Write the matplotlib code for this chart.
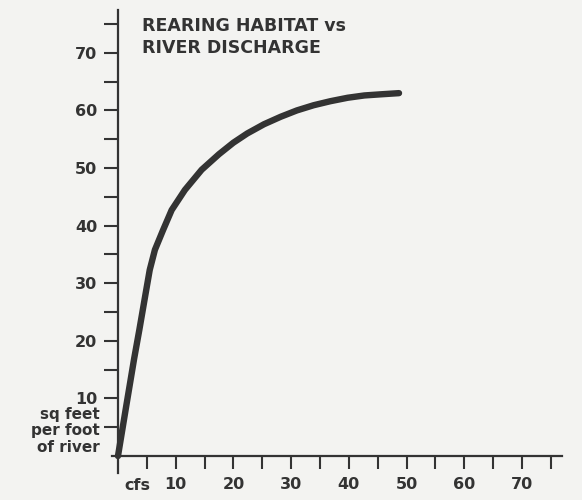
import matplotlib
matplotlib.use("Agg")
import matplotlib.pyplot as plt
import matplotlib.transforms as mtransforms

# Data
discharge_cfs = [0, 1.4, 2.8, 3.7, 4.7, 5.5, 6.4, 7.8, 9.3, 11.6, 14.5, 17.5, 20.0, 22.4,
                 25.3, 28.2, 31.0, 33.9, 36.8, 39.8, 42.7, 45.6, 48.7]
habitat_sqft = [0, 8.5, 16.9, 21.9, 27.7, 32.3, 35.8, 39.2, 42.7, 46.2, 49.7, 52.4, 54.4, 56.0,
                57.6, 58.9, 60.0, 60.9, 61.6, 62.2, 62.6, 62.8, 63.0]

x_ticks = [5, 10, 15, 20, 25, 30, 35, 40, 45, 50, 55, 60, 65, 70, 75]
x_tick_labels = ["", "10", "", "20", "", "30", "", "40", "", "50", "", "60", "", "70", ""]
y_ticks = [5, 10, 15, 20, 25, 30, 35, 40, 45, 50, 55, 60, 65, 70, 75]
y_tick_labels = ["", "10", "", "20", "", "30", "", "40", "", "50", "", "60", "", "70", ""]

x_unit_text = "cfs"
title_text = "REARING HABITAT vs\nRIVER DISCHARGE"
unit_text = "sq feet\nper foot\nof river"

ink = "#333333"
bg = "#f3f3f1"

fig = plt.figure(figsize=(5.82, 5.0), dpi=100, facecolor=bg)
ax = fig.add_axes([0.1928, 0.0534, 0.7734, 0.9262])
ax.set_facecolor(bg)

ax.plot(discharge_cfs, habitat_sqft, color=ink, lw=4.6,
        solid_capstyle="round", solid_joinstyle="round")

ax.set_xlim(-1, 77)
ax.set_ylim(-3, 77.4)

for s in ["top", "right"]:
    ax.spines[s].set_visible(False)
ax.spines["left"].set_position(("data", 0))
ax.spines["bottom"].set_position(("data", 0))
for s in ["left", "bottom"]:
    ax.spines[s].set_color(ink)
    ax.spines[s].set_linewidth(1.6)

ax.set_xticks(x_ticks)
ax.set_xticklabels(x_tick_labels, fontweight="bold")
ax.set_yticks(y_ticks)
ax.set_yticklabels(y_tick_labels, fontweight="bold")

ax.tick_params(axis="x", direction="out", length=9, width=1.5, color=ink,
               labelsize=11.5, labelcolor=ink, pad=6)
ax.tick_params(axis="y", direction="out", length=10, width=1.5, color=ink,
               labelsize=11.5, labelcolor=ink, pad=5)

# "cfs" unit label under the first tick, shifted left as in the reference
trans = mtransforms.blended_transform_factory(ax.transData, fig.transFigure)
ax.text(3.3, 1 - 486 / 500, x_unit_text, transform=trans, ha="center", va="center",
        fontsize=11.5, fontweight="bold", color=ink)

ax.text(0.066, 0.985, title_text, transform=ax.transAxes, ha="left", va="top",
        fontsize=12.5, fontweight="bold", color=ink, linespacing=1.25)

fig.text(100 / 582, 1 - 431 / 500, unit_text, ha="right", va="center",
         fontsize=11, fontweight="bold", color=ink, linespacing=1.1)

fig.savefig("out.png", dpi=100, facecolor=bg)
